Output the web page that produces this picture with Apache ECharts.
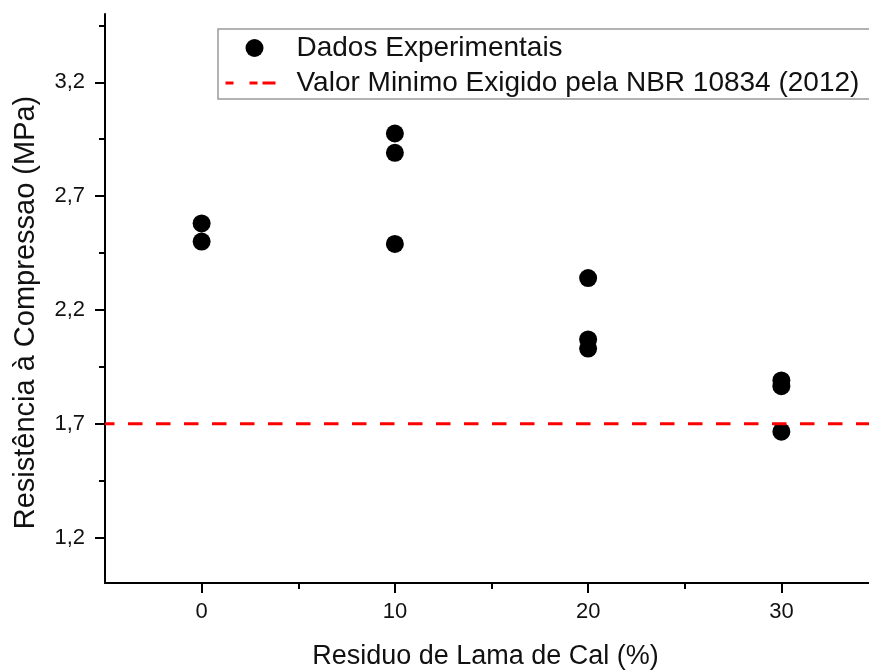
<!DOCTYPE html>
<html>
<head>
<meta charset="utf-8">
<script src="https://cdn.jsdelivr.net/npm/echarts@6/dist/echarts.min.js"></script>
<style>html,body{margin:0;padding:0;background:#fff;}#chart{width:869px;height:671px;}</style>
</head>
<body>
<div id="chart"></div>
<script>
// ---- data ----
const residuo = [0, 0, 10, 10, 10, 20, 20, 20, 30, 30, 30];
const resistencia = [2.58, 2.50, 2.975, 2.89, 2.49, 2.34, 2.07, 2.03, 1.89, 1.865, 1.665];
const nbrMinimo = 1.7;
const nbrLineX = [-5, 35];
const xTickValues = [0, 10, 20, 30];
const xMinorTicks = [5, 15, 25];
const yTickValues = [1.2, 1.7, 2.2, 2.7, 3.2];
const yMinorTicks = [1.45, 1.95, 2.45, 2.95, 3.45];
const serieNomes = ['Dados Experimentais', 'Valor Minimo Exigido pela NBR 10834 (2012)'];

const font = 'Liberation Sans, Arial, sans-serif';
const txt = '#111';

const scatterData = residuo.map((x, i) => [x, resistencia[i]]);
const lineData = nbrLineX.map(x => [x, nbrMinimo]);

const gridBox = {left: 105, top: 14, width: 773, height: 569, outerBoundsMode: 'none', containLabel: false};

const chart = echarts.init(document.getElementById('chart'));
chart.setOption({
  animation: false,
  backgroundColor: '#fff',
  grid: [Object.assign({}, gridBox), Object.assign({}, gridBox)],
  legend: {
    orient: 'vertical',
    left: 218, top: 29,
    padding: [5, 12, 2, 6],
    itemGap: 7,
    itemWidth: 58,
    itemHeight: 18,
    borderColor: '#999',
    borderWidth: 1.5,
    textStyle: {fontFamily: font, fontSize: 28, color: txt, padding: [0, 0, 0, 8]},
    data: [
      {name: serieNomes[0]},
      {name: serieNomes[1], lineStyle: {type: [13, 16, 8, 5], width: 3, color: '#f00'},
       itemStyle: {color: 'rgba(0,0,0,0)', opacity: 0, borderWidth: 0}}
    ]
  },
  xAxis: [{
    type: 'value', gridIndex: 0, min: -5, max: 35,
    name: 'Residuo de Lama de Cal (%)', nameLocation: 'middle', nameGap: 60,
    nameTextStyle: {fontFamily: font, fontSize: 27, color: txt, padding: [0, 12, 0, 0]},
    axisLine: {show: true, onZero: false, lineStyle: {color: '#000', width: 2}},
    axisTick: {show: true, inside: false, length: 10, lineStyle: {color: '#000', width: 2}, customValues: xTickValues},
    axisLabel: {fontFamily: font, fontSize: 22, color: txt, margin: 18, customValues: xTickValues},
    splitLine: {show: false}
  }, {
    type: 'value', gridIndex: 1, min: -5, max: 35,
    axisLine: {show: false, onZero: false},
    axisTick: {show: true, inside: false, length: 6, lineStyle: {color: '#000', width: 2}, customValues: xMinorTicks},
    axisLabel: {show: false},
    splitLine: {show: false}
  }],
  yAxis: [{
    type: 'value', gridIndex: 0, min: 1.0, max: 3.5,
    name: 'Resistência à Compressao (MPa)', nameLocation: 'middle', nameGap: 65,
    nameTextStyle: {fontFamily: font, fontSize: 29, color: txt, padding: [0, 28, 0, 0]},
    axisLine: {show: true, onZero: false, lineStyle: {color: '#000', width: 2}},
    axisTick: {show: true, inside: false, length: 10, lineStyle: {color: '#000', width: 2}, customValues: yTickValues},
    axisLabel: {fontFamily: font, fontSize: 22, color: txt, margin: 20, customValues: yTickValues,
      formatter: v => v.toFixed(1).replace('.', ',')},
    splitLine: {show: false}
  }, {
    type: 'value', gridIndex: 1, min: 1.0, max: 3.5,
    axisLine: {show: false, onZero: false},
    axisTick: {show: true, inside: false, length: 6, lineStyle: {color: '#000', width: 2}, customValues: yMinorTicks},
    axisLabel: {show: false},
    splitLine: {show: false}
  }],
  series: [{
    name: serieNomes[0], type: 'scatter', xAxisIndex: 0, yAxisIndex: 0,
    symbol: 'circle', symbolSize: 18,
    itemStyle: {color: '#000', opacity: 1},
    data: scatterData, z: 2
  }, {
    name: serieNomes[1], type: 'line', xAxisIndex: 0, yAxisIndex: 0,
    symbol: 'none', showSymbol: false,
    lineStyle: {color: '#f00', width: 3, type: [14.5, 13.5], dashOffset: 5},
    itemStyle: {color: '#f00'},
    data: lineData, z: 3
  }]
});
</script>
</body>
</html>
